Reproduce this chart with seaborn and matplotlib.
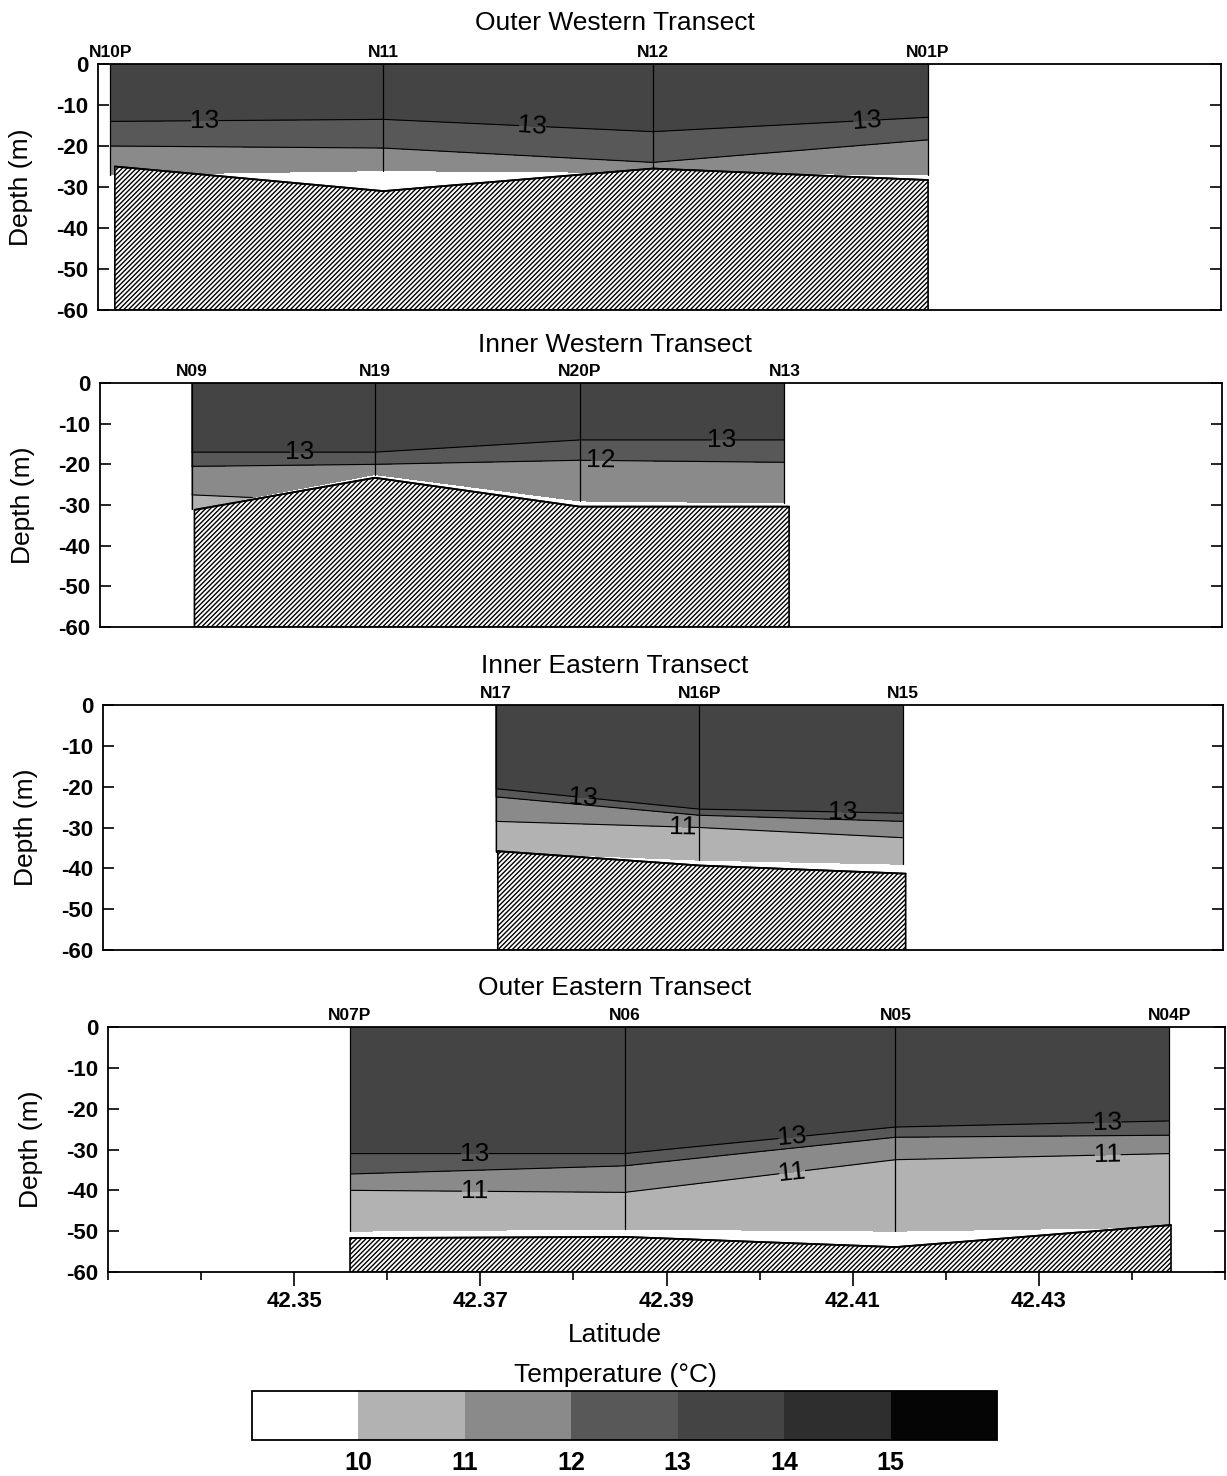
import numpy as np
import matplotlib
matplotlib.use("Agg")
import matplotlib.pyplot as plt
import matplotlib.ticker as mticker
from matplotlib.colors import ListedColormap, BoundaryNorm
import seaborn as sns

sns.set_style("ticks")
plt.rcParams["font.family"] = ["Liberation Sans", "DejaVu Sans"]
plt.rcParams["hatch.linewidth"] = 1.0
plt.rcParams["axes.linewidth"] = 1.3
for key in ["text.color", "axes.labelcolor", "xtick.color", "ytick.color", "axes.edgecolor"]:
    plt.rcParams[key] = "black"

# ---- temperature classes -------------------------------------------------
temp_levels = [9, 10, 11, 12, 13, 14, 15, 16]
temp_ticks = [10, 11, 12, 13, 14, 15]
temp_colors = ["#ffffff", "#b2b2b2", "#8a8a8a", "#585858", "#444444", "#2e2e2e", "#050505"]

# ---- Outer Western Transect ---------------------------------------------
ow_names = ["N10P", "N11", "N12", "N01P"]
ow_lat = [42.3313, 42.3605, 42.3893, 42.4187]
ow_depth = [[0, -14, -20, -27],
            [0, -13.5, -20.5, -26],
            [0, -16.5, -24, -26.5],
            [0, -13, -18.5, -27]]
ow_temp = [[13.8, 13.0, 12.0, 11.6],
           [13.8, 13.0, 12.0, 11.7],
           [13.9, 13.0, 12.0, 11.8],
           [13.8, 13.0, 12.0, 11.5]]
ow_bathy_lat = [42.3318, 42.3605, 42.3893, 42.4187]
ow_bathy_depth = [-25.0, -31.0, -25.5, -28.3]

# ---- Inner Western Transect ---------------------------------------------
iw_names = ["N09", "N19", "N20P", "N13"]
iw_lat = [42.3398, 42.3594, 42.3813, 42.4032]
iw_depth = [[0, -17, -20.5, -27.5, -31],
            [0, -17, -20, -21.5, -22.5],
            [0, -14, -19, -26, -29],
            [0, -14, -19.5, -26, -29.5]]
iw_temp = [[13.6, 13.0, 12.0, 11.0, 10.7],
           [13.6, 13.0, 12.0, 11.8, 11.6],
           [13.6, 13.0, 12.0, 11.5, 11.3],
           [13.6, 13.0, 12.0, 11.5, 11.3]]
iw_bathy_lat = [42.3401, 42.3594, 42.3813, 42.4037]
iw_bathy_depth = [-31.2, -23.3, -30.4, -30.4]

# ---- Inner Eastern Transect ---------------------------------------------
ie_names = ["N17", "N16P", "N15"]
ie_lat = [42.3721, 42.3939, 42.4157]
ie_depth = [[0, -20.5, -22.5, -28.5, -36],
            [0, -25.5, -27, -30, -38],
            [0, -26.5, -28.5, -32.5, -39]]
ie_temp = [[13.7, 13.0, 12.0, 11.0, 10.5],
           [13.7, 13.0, 12.0, 11.0, 10.5],
           [13.7, 13.0, 12.0, 11.0, 10.6]]
ie_bathy_lat = [42.3723, 42.3939, 42.4160]
ie_bathy_depth = [-35.8, -39.3, -41.3]

# ---- Outer Eastern Transect ---------------------------------------------
oe_names = ["N07P", "N06", "N05", "N04P"]
oe_lat = [42.3560, 42.3855, 42.4146, 42.4440]
oe_depth = [[0, -31, -36, -40, -50],
            [0, -31, -34, -40.5, -49.5],
            [0, -24.5, -27, -32.5, -50],
            [0, -23, -26.5, -31, -49]]
oe_temp = [[13.8, 13.0, 12.0, 11.0, 10.4],
           [13.8, 13.0, 12.0, 11.0, 10.4],
           [13.8, 13.0, 12.0, 11.0, 10.3],
           [13.8, 13.0, 12.0, 11.0, 10.4]]
oe_bathy_lat = [42.3560, 42.3855, 42.4146, 42.4442]
oe_bathy_depth = [-51.7, -51.4, -53.9, -48.5]

depth_ticks = [0, -10, -20, -30, -40, -50, -60]
lat_min, lat_max = 42.33, 42.45

cmap = ListedColormap(temp_colors)
norm = BoundaryNorm(temp_levels, cmap.N)

W, H = 1227, 1476
fig = plt.figure(figsize=(W / 100, H / 100), dpi=100)


def px_axes(left, right, top, bottom):
    return fig.add_axes([left / W, 1 - bottom / H, (right - left) / W, (bottom - top) / H])


panels = [
    dict(title="Outer Western Transect", box=(98, 1221, 64, 310), title_y=23,
         names=ow_names, lat=ow_lat, depth=ow_depth, temp=ow_temp,
         blat=ow_bathy_lat, bdep=ow_bathy_depth,
         labels={13: [(42.3414, -13.5), (42.3765, -14), (42.4121, -13)]}),
    dict(title="Inner Western Transect", box=(100, 1222, 383, 627), title_y=345,
         names=iw_names, lat=iw_lat, depth=iw_depth, temp=iw_temp,
         blat=iw_bathy_lat, bdep=iw_bathy_depth,
         labels={13: [(42.3514, -17), (42.3965, -14)], 12: [(42.3836, -19)]}),
    dict(title="Inner Eastern Transect", box=(103, 1223, 705, 950), title_y=666,
         names=ie_names, lat=ie_lat, depth=ie_depth, temp=ie_temp,
         blat=ie_bathy_lat, bdep=ie_bathy_depth,
         labels={13: [(42.3814, -21.5), (42.4093, -26)], 11: [(42.3921, -30)]}),
    dict(title="Outer Eastern Transect", box=(108, 1225, 1027, 1272), title_y=988,
         names=oe_names, lat=oe_lat, depth=oe_depth, temp=oe_temp,
         blat=oe_bathy_lat, bdep=oe_bathy_depth,
         labels={13: [(42.3694, -31), (42.4035, -27), (42.4374, -23.2)],
                 11: [(42.3694, -40), (42.4035, -35.5), (42.4374, -31)]}),
]

for i, p in enumerate(panels):
    ax = px_axes(*p["box"])
    lat = np.asarray(p["lat"])
    dep = np.asarray(p["depth"], dtype=float).T   # rows: sample, cols: station
    tmp = np.asarray(p["temp"], dtype=float).T
    X = np.tile(lat, (dep.shape[0], 1))

    ax.contourf(X, dep, tmp, levels=temp_levels, cmap=cmap, norm=norm)
    for lev in [11, 12, 13]:
        cs = ax.contour(X, dep, tmp, levels=[lev], colors="black", linewidths=0.8)
        if lev in p["labels"]:
            ax.clabel(cs, manual=p["labels"][lev], fmt="%d", fontsize=19,
                      inline=True, inline_spacing=4)

    # station casts
    for name, la, prof in zip(p["names"], p["lat"], p["depth"]):
        ax.plot([la, la], [0, prof[-1]], color="black", lw=0.9)
        ax.annotate(name, xy=(la, 1.0), xycoords=ax.get_xaxis_transform(),
                    xytext=(0, 3), textcoords="offset points",
                    ha="center", va="bottom", fontsize=12.5, fontweight="bold")

    # sea floor
    ax.fill_between(p["blat"], p["bdep"], -60, facecolor="white",
                    edgecolor="black", hatch="///////", linewidth=1.2, zorder=3)
    sns.lineplot(x=p["blat"], y=p["bdep"], ax=ax, color="black", lw=1.3,
                 zorder=4, estimator=None, sort=False)

    ax.set_xlim(lat_min, lat_max)
    ax.set_ylim(-60, 0)
    ax.set_yticks(depth_ticks)
    ax.set_yticklabels([str(t) for t in depth_ticks], fontsize=16, fontweight="bold")
    ax.tick_params(axis="y", direction="in", length=8, width=1.2, right=True,
                   left=True, pad=7)
    ax.set_ylabel("Depth (m)", fontsize=19)
    ax.yaxis.set_label_coords(-0.058, 0.5)
    for s in ax.spines.values():
        s.set_color("black")
        s.set_linewidth(1.3)
        s.set_zorder(6)

    if i < 3:
        ax.set_xticks([])
    else:
        ax.xaxis.set_major_locator(mticker.FixedLocator([42.35, 42.37, 42.39, 42.41, 42.43]))
        ax.xaxis.set_minor_locator(mticker.FixedLocator([42.33, 42.34, 42.36, 42.38, 42.40,
                                                        42.42, 42.44, 42.45]))
        ax.xaxis.set_major_formatter(mticker.FormatStrFormatter("%.2f"))
        ax.tick_params(axis="x", which="major", direction="out", length=10, width=1.2,
                       labelsize=16, pad=4)
        ax.tick_params(axis="x", which="minor", direction="out", length=6, width=1.2)
        for lbl in ax.get_xticklabels():
            lbl.set_fontweight("bold")

    fig.text(615 / W, 1 - p["title_y"] / H, p["title"], ha="center", va="center",
             fontsize=19)

fig.text(615 / W, 1 - 1335 / H, "Latitude", ha="center", va="center", fontsize=19)

# ---- colour key ----------------------------------------------------------
cax = fig.add_axes([252 / W, 1 - 1440 / H, 745 / W, 49 / H])
sm = matplotlib.cm.ScalarMappable(norm=norm, cmap=cmap)
cb = fig.colorbar(sm, cax=cax, orientation="horizontal", boundaries=temp_levels,
                  ticks=temp_ticks, drawedges=False)
cb.outline.set_linewidth(1.3)
cb.outline.set_edgecolor("black")
cax.minorticks_off()
cax.tick_params(which="both", length=0, labelsize=18, pad=8)
for lbl in cax.get_xticklabels():
    lbl.set_fontweight("bold")
fig.text(615 / W, 1 - 1375 / H, "Temperature (°C)", ha="center", va="center",
         fontsize=19)

fig.savefig("out.png", dpi=100)
